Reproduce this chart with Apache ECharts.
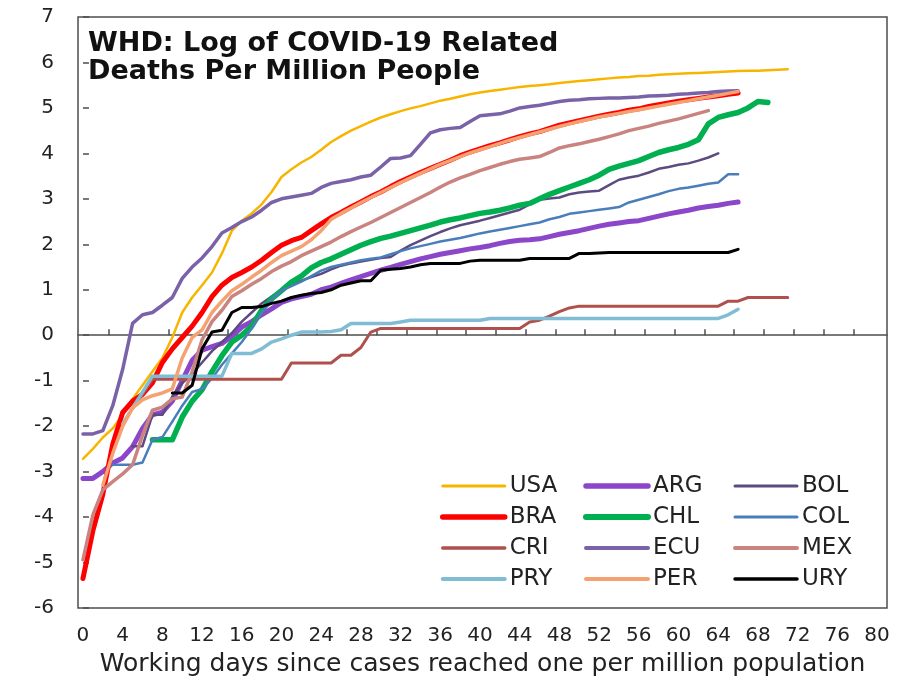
<!DOCTYPE html>
<html>
<head>
<meta charset="utf-8">
<title>WHD: Log of COVID-19 Related Deaths Per Million People</title>
<script src="https://cdn.jsdelivr.net/npm/echarts@6/dist/echarts.min.js"></script>
<style>
  html, body { margin: 0; padding: 0; background: #fff; }
  #chart { width: 902px; height: 684px; }
</style>
</head>
<body>
<div id="chart"></div>
<script>
// log of deaths per million, one value per working day (index = day), null = no deaths yet
const USA = [-2.72,-2.5,-2.25,-2.05,-1.75,-1.4,-1.1,-0.8,-0.5,-0.05,
  0.5,0.83,1.1,1.38,1.8,2.3,2.52,2.68,2.88,3.15,
  3.48,3.65,3.8,3.92,4.08,4.25,4.38,4.5,4.6,4.7,
  4.79,4.86,4.93,4.99,5.04,5.1,5.16,5.2,5.25,5.3,
  5.34,5.37,5.4,5.43,5.46,5.48,5.5,5.52,5.55,5.57,
  5.59,5.61,5.63,5.65,5.67,5.68,5.7,5.71,5.73,5.74,
  5.75,5.76,5.77,5.78,5.79,5.8,5.81,5.82,5.82,5.83,
  5.84,5.85]
const ARG = [-3.15,-3.15,-3.0,-2.81,-2.7,-2.45,-2.05,-1.75,-1.69,-1.45,
  -1.0,-0.55,-0.33,-0.25,-0.18,-0.02,0.18,0.3,0.45,0.58,
  0.72,0.8,0.85,0.9,1.0,1.06,1.14,1.22,1.29,1.36,
  1.43,1.49,1.56,1.62,1.68,1.73,1.78,1.82,1.86,1.9,
  1.93,1.97,2.02,2.06,2.09,2.1,2.12,2.17,2.22,2.26,
  2.3,2.35,2.4,2.44,2.47,2.5,2.52,2.57,2.62,2.67,
  2.71,2.75,2.8,2.83,2.86,2.9,2.93]
const BOL = [null,null,null,null,null,-2.44,-2.44,-1.75,-1.75,-1.35,
  -1.05,-0.85,-0.6,-0.35,-0.15,0.05,0.3,0.5,0.7,0.85,
  1.0,1.1,1.2,1.28,1.35,1.45,1.53,1.58,1.62,1.66,
  1.7,1.72,1.86,1.98,2.08,2.18,2.27,2.35,2.42,2.47,
  2.52,2.58,2.64,2.7,2.76,2.88,2.98,3.01,3.03,3.1,
  3.14,3.16,3.18,3.3,3.42,3.47,3.51,3.58,3.66,3.7,
  3.75,3.78,3.84,3.91,4.0]
const BRA = [-5.35,-4.3,-3.5,-2.4,-1.7,-1.45,-1.3,-1.05,-0.6,-0.3,
  -0.05,0.2,0.5,0.85,1.1,1.27,1.38,1.5,1.65,1.82,
  1.98,2.08,2.15,2.3,2.45,2.59,2.7,2.82,2.93,3.05,
  3.15,3.27,3.38,3.48,3.58,3.67,3.76,3.85,3.95,4.03,
  4.1,4.17,4.23,4.3,4.37,4.43,4.48,4.55,4.62,4.67,
  4.72,4.77,4.82,4.86,4.9,4.95,4.98,5.03,5.07,5.11,
  5.15,5.18,5.21,5.24,5.27,5.3,5.33]
const CHL = [null,null,null,null,null,null,null,-2.3,-2.3,-2.3,
  -1.8,-1.45,-1.2,-0.8,-0.45,-0.15,0.0,0.2,0.55,0.8,
  0.98,1.17,1.3,1.48,1.6,1.68,1.78,1.88,1.98,2.06,
  2.13,2.18,2.24,2.3,2.36,2.42,2.49,2.54,2.58,2.63,
  2.68,2.71,2.75,2.8,2.86,2.9,3.0,3.1,3.18,3.26,
  3.34,3.42,3.52,3.65,3.72,3.78,3.84,3.93,4.02,4.08,
  4.13,4.2,4.3,4.65,4.79,4.85,4.9,5.0,5.14,5.12]
const COL = [null,null,null,-2.85,-2.85,-2.85,-2.8,-2.3,-2.24,-1.9,
  -1.55,-1.25,-1.18,-0.95,-0.65,-0.4,-0.15,0.15,0.5,0.78,
  0.98,1.08,1.18,1.3,1.42,1.5,1.55,1.6,1.65,1.68,
  1.71,1.78,1.85,1.91,1.96,2.01,2.06,2.1,2.14,2.19,
  2.24,2.28,2.32,2.36,2.4,2.44,2.48,2.55,2.6,2.67,
  2.7,2.73,2.76,2.79,2.82,2.92,2.98,3.04,3.1,3.17,
  3.22,3.25,3.29,3.33,3.36,3.54,3.54]
const CRI = [null,null,null,null,null,-1.61,-1.3,-0.97,-0.97,-0.97,
  -0.97,-0.97,-0.97,-0.97,-0.97,-0.97,-0.97,-0.97,-0.97,-0.97,
  -0.97,-0.61,-0.61,-0.61,-0.61,-0.61,-0.44,-0.44,-0.27,0.07,
  0.15,0.15,0.15,0.15,0.15,0.15,0.15,0.15,0.15,0.15,
  0.15,0.15,0.15,0.15,0.15,0.29,0.33,0.42,0.52,0.6,
  0.64,0.64,0.64,0.64,0.64,0.64,0.64,0.64,0.64,0.64,
  0.64,0.64,0.64,0.64,0.64,0.75,0.75,0.83,0.83,0.83,
  0.83,0.83]
const ECU = [-2.17,-2.17,-2.1,-1.55,-0.75,0.26,0.45,0.5,0.66,0.83,
  1.25,1.5,1.7,1.95,2.25,2.37,2.5,2.6,2.75,2.92,
  3.0,3.04,3.08,3.12,3.25,3.34,3.38,3.42,3.48,3.52,
  3.7,3.89,3.9,3.95,4.2,4.45,4.52,4.55,4.57,4.7,
  4.83,4.85,4.87,4.93,5.0,5.03,5.06,5.1,5.14,5.17,
  5.18,5.2,5.21,5.22,5.22,5.23,5.24,5.26,5.27,5.28,
  5.3,5.31,5.33,5.34,5.36,5.37,5.38]
const MEX = [-4.94,-3.95,-3.4,-3.22,-3.05,-2.85,-2.2,-1.65,-1.58,-1.4,
  -1.36,-0.8,-0.1,0.3,0.55,0.85,0.98,1.12,1.25,1.4,
  1.52,1.62,1.75,1.85,1.95,2.05,2.17,2.28,2.38,2.48,
  2.59,2.7,2.81,2.92,3.03,3.14,3.26,3.37,3.46,3.54,
  3.62,3.69,3.76,3.82,3.87,3.9,3.93,4.02,4.12,4.17,
  4.21,4.26,4.31,4.37,4.43,4.5,4.55,4.6,4.66,4.71,
  4.76,4.82,4.88,4.94]
const PRY = [null,null,null,null,-1.95,-1.6,-1.25,-0.9,-0.9,-0.9,
  -0.9,-0.9,-0.9,-0.9,-0.9,-0.4,-0.4,-0.4,-0.3,-0.15,
  -0.08,0.0,0.07,0.07,0.07,0.08,0.12,0.26,0.26,0.26,
  0.26,0.26,0.29,0.33,0.33,0.33,0.33,0.33,0.33,0.33,
  0.33,0.37,0.37,0.37,0.37,0.37,0.37,0.37,0.37,0.37,
  0.37,0.37,0.37,0.37,0.37,0.37,0.37,0.37,0.37,0.37,
  0.37,0.37,0.37,0.37,0.37,0.45,0.57]
const PER = [null,null,-3.3,-2.6,-2.0,-1.6,-1.42,-1.33,-1.27,-1.18,
  -0.5,-0.05,0.12,0.5,0.75,0.98,1.12,1.28,1.43,1.6,
  1.75,1.85,1.95,2.1,2.3,2.55,2.68,2.8,2.92,3.03,
  3.14,3.25,3.36,3.46,3.56,3.66,3.76,3.84,3.93,4.01,
  4.08,4.15,4.22,4.29,4.35,4.41,4.47,4.53,4.59,4.65,
  4.7,4.75,4.8,4.84,4.88,4.92,4.96,5.0,5.04,5.08,
  5.12,5.16,5.2,5.24,5.28,5.32,5.36]
const URY = [null,null,null,null,null,null,null,null,null,-1.27,
  -1.27,-1.1,-0.3,0.07,0.11,0.5,0.61,0.61,0.63,0.7,
  0.75,0.83,0.88,0.92,0.94,1.0,1.1,1.15,1.2,1.2,
  1.43,1.45,1.47,1.5,1.55,1.58,1.58,1.58,1.58,1.63,
  1.65,1.65,1.65,1.65,1.65,1.69,1.69,1.69,1.69,1.69,
  1.8,1.8,1.81,1.82,1.82,1.82,1.82,1.82,1.82,1.82,
  1.82,1.82,1.82,1.82,1.82,1.82,1.89]

// tick labels
const xLabels = [0,4,8,12,16,20,24,28,32,36,40,44,48,52,56,60,64,68,72,76,80]
const zeroTicks = [2.6,8.6,14.6,20.6,23.6,26.6,29.6,32.6,35.6,38.6,41.6,44.6,
  47.6,50.6,53.6,56.6,59.6,62.6,65.6,68.6,71.6,74.6,77.6]

const countries = [
  { name: 'USA', data: USA, color: '#f7b500', width: 2.5 },
  { name: 'ARG', data: ARG, color: '#8b46c9', width: 5 },
  { name: 'BOL', data: BOL, color: '#5c4a82', width: 2.5 },
  { name: 'BRA', data: BRA, color: '#ff0000', width: 5 },
  { name: 'CHL', data: CHL, color: '#00b050', width: 5.5 },
  { name: 'COL', data: COL, color: '#4a7ebb', width: 2.5 },
  { name: 'CRI', data: CRI, color: '#b0504c', width: 3 },
  { name: 'ECU', data: ECU, color: '#7a62a8', width: 3.5 },
  { name: 'MEX', data: MEX, color: '#c98480', width: 3.5 },
  { name: 'PRY', data: PRY, color: '#80bcd4', width: 3.5 },
  { name: 'PER', data: PER, color: '#f5a273', width: 3.5 },
  { name: 'URY', data: URY, color: '#000000', width: 3 }
]

const font = 'DejaVu Sans'
const textColor = '#222'

const chart = echarts.init(document.getElementById('chart'))

function legendColumn(left, names) {
  return {
    left: left,
    top: 469,
    orient: 'vertical',
    itemWidth: 62,
    itemHeight: 14,
    itemGap: 7,
    data: names.map(n => {
      const c = countries.find(x => x.name === n)
      return {
        name: n,
        itemStyle: { opacity: 0 }, // line only, no marker
        lineStyle: { color: c.color, width: c.width + 0.5, cap: 'round' }
      }
    }),
    textStyle: { fontFamily: font, fontSize: 23, color: textColor, lineHeight: 24 }
  }
}

chart.setOption({
  animation: false,
  backgroundColor: '#fff',
  title: {
    text: 'WHD: Log of COVID-19 Related\nDeaths Per Million People',
    left: 83,
    top: 25,
    textStyle: {
      fontFamily: font,
      fontSize: 27,
      fontWeight: 'bold',
      color: '#111',
      lineHeight: 28
    }
  },
  legend: [
    legendColumn(435, ['USA', 'BRA', 'CRI', 'PRY']),
    legendColumn(578, ['ARG', 'CHL', 'ECU', 'PER']),
    legendColumn(728, ['BOL', 'COL', 'MEX', 'URY'])
  ],
  grid: {
    left: 78,
    right: 15,
    top: 17,
    bottom: 76,
    show: true,
    borderColor: '#4d4d4d',
    borderWidth: 1.5
  },
  xAxis: [{
    type: 'value',
    min: -0.5,
    max: 81,
    name: 'Working days since cases reached one per million population',
    nameLocation: 'middle',
    nameGap: 44,
    nameTextStyle: { fontFamily: font, fontSize: 25, color: textColor },
    axisLine: { show: false, onZero: false },
    axisTick: { show: false },
    splitLine: { show: false },
    axisLabel: {
      customValues: xLabels,
      margin: 18,
      fontFamily: font,
      fontSize: 20,
      color: textColor
    }
  }, {
    // the zero line with its small upward ticks
    type: 'value',
    min: -0.5,
    max: 81,
    position: 'bottom',
    axisLine: { show: true, onZero: true, lineStyle: { color: '#4d4d4d', width: 1.5 } },
    axisTick: {
      show: true,
      inside: true,
      length: 6,
      customValues: zeroTicks,
      lineStyle: { color: '#4d4d4d', width: 1.5 }
    },
    axisLabel: { show: false },
    splitLine: { show: false }
  }],
  yAxis: {
    type: 'value',
    min: -6,
    max: 7,
    interval: 1,
    axisLine: { show: false },
    axisTick: { show: true, inside: true, length: 6, lineStyle: { color: '#4d4d4d', width: 1.5 } },
    splitLine: { show: false },
    axisLabel: { margin: 24, fontFamily: font, fontSize: 20, color: textColor }
  },
  series: countries.map(c => ({
    name: c.name,
    type: 'line',
    xAxisIndex: 0,
    symbol: 'none',
    showSymbol: false,
    color: c.color,
    lineStyle: { color: c.color, width: c.width, cap: 'round', join: 'round' },
    data: c.data.map((v, i) => [i, v]).filter(p => p[1] !== null)
  }))
})
</script>
</body>
</html>
